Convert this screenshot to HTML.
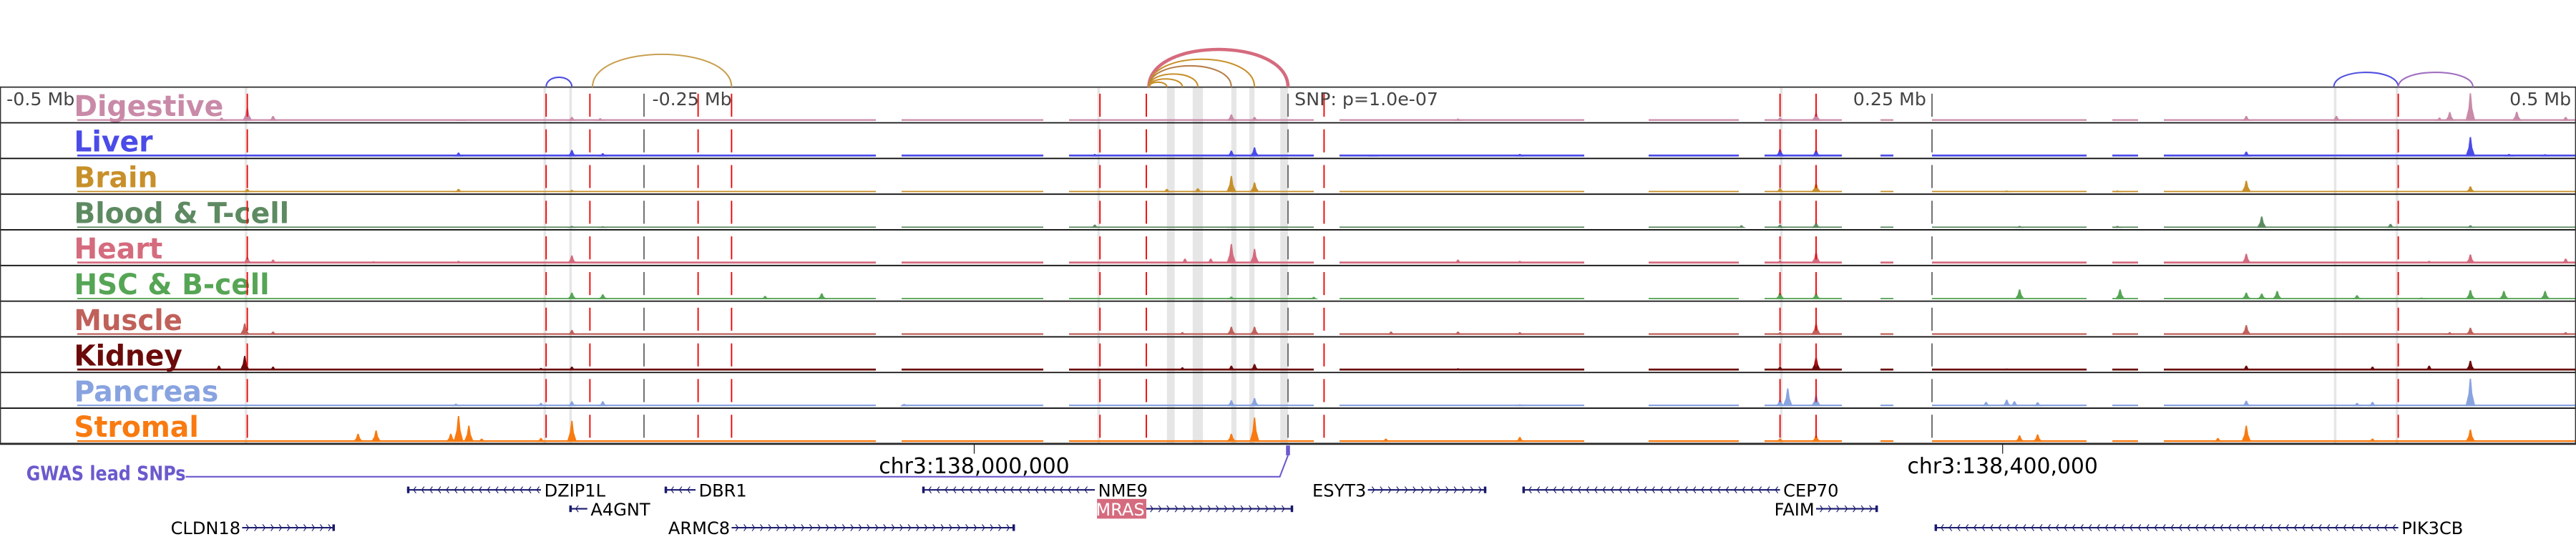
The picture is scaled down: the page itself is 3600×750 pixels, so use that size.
<!DOCTYPE html>
<html><head><meta charset="utf-8">
<style>
html,body{margin:0;padding:0;background:#fff;}
svg{display:block;}
text{font-family:"DejaVu Sans","Liberation Sans",sans-serif;}
</style></head>
<body>
<svg id="chart" xmlns="http://www.w3.org/2000/svg" width="3600" height="750" viewBox="0 0 1568 326.67" preserveAspectRatio="none"></svg>
<script>
// ---- data (genomic offset in kb relative to lead SNP) ----
const trackNames = ["Digestive","Liver","Brain","Blood & T-cell","Heart","HSC & B-cell","Muscle","Kidney","Pancreas","Stromal"];
const trackColors = ["#c98aa8","#4b4be8","#c8902a","#5e8a62","#d56b7e","#55a555","#c0605a","#6b0a0a","#88a3e0","#f87a10"];
const labelWidths = [91,48,51,131,54,119,66,66,88,76];
const bgLevels = [0.05,0.06,0.04,0.04,0.06,0.04,0.05,0.06,0.05,0.05];
const bgSegments = [[-470,-160],[-150,-95],[-85,10],[20,115],[140,175],[185,215],[230,235],[250,310],[320,330],[340,500]];
const peakPos = [
 [-414,-404,-394,-321,-278,-267,-75,-22,-13,66,191,205,372,407,447,451,459,477,496],
 [-322,-278,-266,-75,-22,-13,33,90,191,205,372,459,474,488],
 [-404,-322,-278,-47,-35,-22,-13,191,205,279,322,372,459],
 [-278,-266,-75,-22,176,191,205,284,322,378,428,459],
 [-404,-394,-355,-322,-278,-40,-30,-22,-13,66,90,191,205,372,443,459,496],
 [-278,-266,-203,-181,-22,10,191,205,284,323,372,378,384,415,440,459,472,488],
 [-405,-394,-278,-41,-22,-13,40,66,90,191,205,372,451,459,496],
 [-415,-405,-394,-290,-278,-41,-22,-13,66,191,205,279,372,421,443,459],
 [-323,-290,-278,-266,-149,-22,-13,90,191,194,205,271,279,282,291,372,415,421,459],
 [-361,-354,-325,-322,-318,-313,-290,-278,-22,-13,38,90,191,205,284,291,361,372,421,459]
];
const peakVal = [
 [0.1,0.4,0.15,0.05,0.12,0.08,0.05,0.2,0.12,0.07,0.1,0.25,0.15,0.15,0.1,0.27,0.85,0.28,0.12],
 [0.12,0.2,0.1,0.08,0.18,0.28,0.06,0.08,0.23,0.2,0.15,0.6,0.08,0.07],
 [0.1,0.1,0.07,0.1,0.12,0.5,0.3,0.12,0.27,0.05,0.05,0.35,0.18],
 [0.06,0.05,0.1,0.04,0.08,0.1,0.15,0.06,0.06,0.35,0.12,0.08],
 [0.2,0.12,0.07,0.08,0.25,0.15,0.15,0.6,0.45,0.12,0.08,0.1,0.35,0.3,0.08,0.28,0.15],
 [0.2,0.15,0.1,0.18,0.08,0.07,0.2,0.18,0.3,0.3,0.2,0.17,0.25,0.12,0.05,0.28,0.25,0.25],
 [0.35,0.1,0.15,0.08,0.25,0.25,0.1,0.1,0.08,0.08,0.35,0.3,0.08,0.22,0.08],
 [0.15,0.45,0.12,0.08,0.12,0.1,0.15,0.2,0.07,0.12,0.4,0.06,0.15,0.12,0.15,0.3],
 [0.08,0.1,0.15,0.15,0.07,0.18,0.25,0.06,0.2,0.55,0.35,0.13,0.2,0.15,0.12,0.17,0.1,0.13,0.85],
 [0.25,0.35,0.25,0.8,0.5,0.1,0.12,0.65,0.25,0.75,0.1,0.15,0.1,0.2,0.2,0.23,0.12,0.5,0.1,0.38]
];
const redLines = [-404,-288,-271,-229,-216,-73,-55,14,191,205,431];
const grayBands = [[-405,-404],[-289,-288],[-279,-278],[-74,-73],[-47,-44],[-37,-33],[-22,-20],[-15,-13],[-3,0],[191,192],[406,407],[430,431]];
const tickKb = [-250,0,250];
const arcStart = [-288,-270,-54,-54,-54,-54,-54,-54,406,431];
const arcEnd = [-278,-216,0,-13,-22,-35,-41,-47,431,460];
const arcHeight = [6,20,23,17,13,8,5,3,9,9];
const arcColor = ["#5050e0","#c8a050","#d56b7e","#c8902a","#b8804a","#c8902a","#c8902a","#c8902a","#5050e0","#a070c0"];
const geneNames = ["DZIP1L","DBR1","NME9","ESYT3","CEP70","A4GNT","MRAS","FAIM","CLDN18","ARMC8","PIK3CB"];
const geneStart = [-342,-242,-142,31,91,-279,-55,205,-406,-216,251];
const geneEnd = [-290,-230,-75,77,191,-272,2,229,-370,-106,431];
const geneStrand = ["-","-","-","+","-","-","+","+","+","+","-"];
const geneRow = [0,0,0,0,0,1,1,1,2,2,2];
const geneLabelSide = ["r","r","r","l","r","r","l","l","l","l","r"];

// ---- layout ----
const NS="http://www.w3.org/2000/svg";
const svg=document.getElementById('chart');
const X0=0,X1=1568,TOP=53,TH=21.7;
function xs(kb){return X0+(kb+500)/1000*(X1-X0);}
function mk(tag,attrs,parent){const e=document.createElementNS(NS,tag);for(const k in attrs)e.setAttribute(k,attrs[k]);(parent||svg).appendChild(e);return e;}

// gray bands
const gBands=mk('g',{});


grayBands.forEach(b=>{const r=mk('rect',{x:xs(b[0]),y:TOP,width:Math.max(1.3,xs(b[1])-xs(b[0])),height:TH*10,fill:'#e6e6e6'},gBands);

});

// tracks
for(let t=0;t<10;t++){
  const y0=TOP+t*TH, base=y0+TH-1.2, hmax=TH-2;
  const g=mk('g',{});
  
  
  bgSegments.forEach(s=>{mk('rect',{x:xs(s[0]),y:base-bgLevels[t]*hmax,width:xs(s[1])-xs(s[0]),height:bgLevels[t]*hmax,fill:trackColors[t]},g);});
  peakPos[t].forEach((p,i)=>{
    const h=peakVal[t][i]*hmax, cx=xs(p);
    const pk=mk('polygon',{points:`${cx-3},${base} ${cx-1.2},${base-h*0.45} ${cx-0.4},${base-h} ${cx+0.4},${base-h} ${cx+1.2},${base-h*0.45} ${cx+3},${base}`,fill:trackColors[t]},g);
    
    
  });
  const lab=mk('text',{x:45,y:y0+17.5,'font-size':17.5,'font-weight':'bold',fill:trackColors[t],textLength:labelWidths[t],lengthAdjust:'spacingAndGlyphs'},g);
  lab.textContent=trackNames[t];
  
  
}

// gray tick lines
tickKb.forEach(k=>{const l=mk('line',{x1:xs(k),x2:xs(k),y1:TOP,y2:TOP+TH*10,stroke:'#666','stroke-width':0.8,'stroke-dasharray':'14 7.7','stroke-dashoffset':'-4'});

});
// red lines
redLines.forEach(k=>{const l=mk('line',{x1:xs(k),x2:xs(k),y1:TOP,y2:TOP+TH*10,stroke:'#ee0000','stroke-width':0.8,'stroke-dasharray':'14 7.7','stroke-dashoffset':'-4'});

});

// track borders
for(let t=0;t<=10;t++){const l=mk('line',{x1:0,x2:1568,y1:TOP+t*TH,y2:TOP+t*TH,stroke:(t==0?'#555':'#111'),'stroke-width':(t==10?1.2:0.8)});

}
const frame=mk('rect',{x:0.3,y:TOP,width:1567.4,height:TH*10,fill:'none',stroke:'#333','stroke-width':0.6});



// position labels
[["-0.5 Mb",4,'start'],["-0.25 Mb",397,'start'],["SNP: p=1.0e-07",788,'start'],["0.25 Mb",1128,'start'],["0.5 Mb",1565,'end']].forEach(a=>{
 const tx=mk('text',{x:a[1],y:64,'font-size':11,fill:'#444','text-anchor':a[2]});tx.textContent=a[0];
 
 });

// arcs
arcStart.forEach((s,i)=>{const a=xs(s),b=xs(arcEnd[i]),h=arcHeight[i]*1.33;
 const p=mk('path',{d:`M${a},${TOP} C${a},${TOP-h} ${b},${TOP-h} ${b},${TOP}`,fill:'none',stroke:arcColor[i],'stroke-width':(i==2?2:0.9)});
 
 });

// chromosome axis
[[593,"chr3:138,000,000"],[1219,"chr3:138,400,000"]].forEach(a=>{
 mk('line',{x1:a[0],x2:a[0],y1:270,y2:276,stroke:'#111','stroke-width':0.5});
 const tx=mk('text',{x:a[0],y:288,'font-size':13,'text-anchor':'middle',fill:'#000'});tx.textContent=a[1];
 
 });

// GWAS
const gw=mk('text',{x:16,y:292,'font-size':12,'font-weight':'bold',fill:'#6a5acd',textLength:97,lengthAdjust:'spacingAndGlyphs'});gw.textContent="GWAS lead SNPs";


const gl=mk('polyline',{points:`113,290 779,290 ${xs(0)},277`,fill:'none',stroke:'#6a5acd','stroke-width':0.9});


const gm=mk('rect',{x:xs(0)-1.2,y:271,width:2.4,height:6,fill:'#6a5acd'});



// genes
const rowY=[298,309.5,321];
geneNames.forEach((n,i)=>{
 const g=mk('g',{});
 
 
 const y=rowY[geneRow[i]],a=xs(geneStart[i]),b=xs(geneEnd[i]);
 mk('line',{x1:a,x2:b,y1:y,y2:y,stroke:'#1a1a6e','stroke-width':0.9},g);
 for(let x=a+4;x<b-2;x+=5){const d=geneStrand[i]=='+'?-1.5:1.5;
   mk('polyline',{points:`${x+d},${y-2} ${x},${y} ${x+d},${y+2}`,fill:'none',stroke:'#1a1a6e','stroke-width':0.5},g);}
 const ex=geneStrand[i]=='+'?b-1.5:a;
 mk('rect',{x:ex,y:y-2,width:1.5,height:4,fill:'#1a1a6e'},g);
 if(n=="MRAS"){mk('rect',{x:a-30,y:y-6,width:30,height:12,fill:'#d56b7e'},g);}
 const side=geneLabelSide[i];
 const tx=mk('text',{x:side=='r'?b+2:a-1,y:y+4,'font-size':10.5,'text-anchor':side=='r'?'start':'end',fill:n=="MRAS"?'#fff':'#000'},g);
 tx.textContent=n;
});
</script>
</body></html>
